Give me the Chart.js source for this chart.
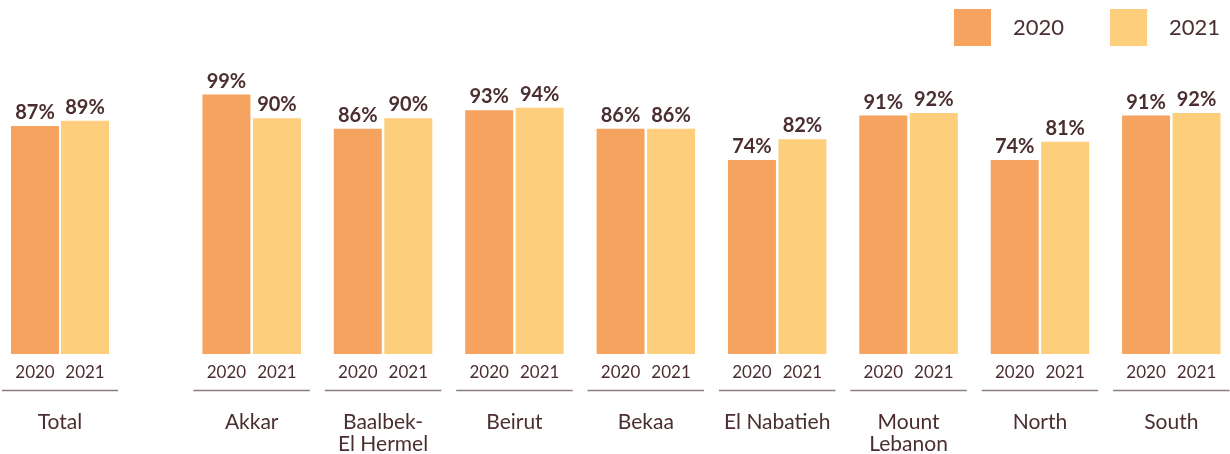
<!DOCTYPE html>
<html>
<head>
<meta charset="utf-8">
<script src="https://cdn.jsdelivr.net/npm/chart.js@4"></script>
<style>
  html, body { margin: 0; padding: 0; background: #fff; overflow: hidden; width: 1230px; height: 454px; }
  #wrapTotal { position: absolute; left: 0; top: 0; width: 120px; height: 454px; }
  #wrapRegions { position: absolute; left: 186px; top: 0; width: 1051px; height: 454px; }
</style>
</head>
<body>
<div id="wrapTotal"><canvas id="chartTotal"></canvas></div>
<div id="wrapRegions"><canvas id="chartRegions"></canvas></div>
<script>
// data
const totalLabels = ['Total'];
const total2020 = [87];
const total2021 = [89];
const regionLabels = ['Akkar', ['Baalbek-', 'El Hermel'], 'Beirut', 'Bekaa', 'El Nabatieh', ['Mount', 'Lebanon'], 'North', 'South'];
const regions2020 = [99, 86, 93, 86, 74, 91, 74, 91];
const regions2021 = [90, 90, 94, 86, 82, 92, 81, 92];
const years = ['2020', '2021'];

const colors = ['#f5a35f', '#fdcf7d'];
const textColor = '#4b2e30';
const lineColor = '#8a7e7f';

// value labels above bars, year under each bar, rule under each group
const barText = {
    id: 'barText',
    afterDatasetsDraw(chart) {
        const ctx = chart.ctx;
        const bottom = chart.chartArea.bottom;
        ctx.save();
        ctx.textAlign = 'center';
        ctx.fillStyle = textColor;
        chart.data.datasets.forEach((ds, i) => {
            chart.getDatasetMeta(i).data.forEach((bar, j) => {
                ctx.font = 'bold 20px Lato';
                ctx.textBaseline = 'alphabetic';
                ctx.fillText(ds.data[j] + '%', bar.x, bar.y - 7);
                ctx.font = '17px Lato';
                ctx.textBaseline = 'middle';
                ctx.fillText(ds.label, bar.x, bottom + 19);
            });
        });
        const a = chart.getDatasetMeta(0).data;
        const b = chart.getDatasetMeta(1).data;
        ctx.strokeStyle = lineColor;
        ctx.lineWidth = 1.5;
        a.forEach((bar, j) => {
            const left = bar.x - bar.width / 2 - 9;
            const right = b[j].x + b[j].width / 2 + 9;
            ctx.beginPath();
            ctx.moveTo(left, bottom + 36.5);
            ctx.lineTo(right, bottom + 36.5);
            ctx.stroke();
        });
        ctx.restore();
    }
};

// legend in the top right corner
const yearLegend = {
    id: 'yearLegend',
    afterDraw(chart) {
        const ctx = chart.ctx;
        ctx.save();
        ctx.font = '22px Lato';
        ctx.textBaseline = 'middle';
        ctx.textAlign = 'left';
        let x = 768;
        chart.data.datasets.forEach(ds => {
            ctx.fillStyle = ds.backgroundColor;
            ctx.fillRect(x, 9, 37, 37);
            ctx.fillStyle = textColor;
            ctx.fillText(ds.label, x + 59, 28);
            x += 59 + ctx.measureText(ds.label).width + 46;
        });
        ctx.restore();
    }
};

function makeData(labels, v2020, v2021, catPct, barPct) {
    return {
        labels: labels,
        datasets: [
            { label: years[0], data: v2020, backgroundColor: colors[0], categoryPercentage: catPct, barPercentage: barPct },
            { label: years[1], data: v2021, backgroundColor: colors[1], categoryPercentage: catPct, barPercentage: barPct }
        ]
    };
}

function makeOptions() {
    return {
        responsive: true,
        maintainAspectRatio: false,
        animation: false,
        layout: { padding: { top: 92, left: 0, right: 0, bottom: 0 } },
        plugins: {
            legend: { display: false },
            tooltip: { enabled: false }
        },
        scales: {
            x: {
                grid: { display: false, drawTicks: false },
                border: { display: false },
                ticks: {
                    color: textColor,
                    font: { family: 'Lato', size: 21, lineHeight: 1.05 },
                    padding: 57,
                    maxRotation: 0,
                    autoSkip: false
                },
                afterFit(scale) {
                    // tick padding pushes labels down only, keep the full width for bars
                    scale.height = 100;
                    scale.paddingLeft = 0;
                    scale.paddingRight = 0;
                }
            },
            y: { display: false, min: 0, max: 100 }
        }
    };
}

new Chart(document.getElementById('chartTotal'), {
    type: 'bar',
    data: makeData(totalLabels, total2020, total2021, 100 / 120, 0.96),
    options: makeOptions(),
    plugins: [barText]
});

new Chart(document.getElementById('chartRegions'), {
    type: 'bar',
    data: makeData(regionLabels, regions2020, regions2021, 0.769, 0.95),
    options: makeOptions(),
    plugins: [barText, yearLegend]
});
</script>
</body>
</html>
